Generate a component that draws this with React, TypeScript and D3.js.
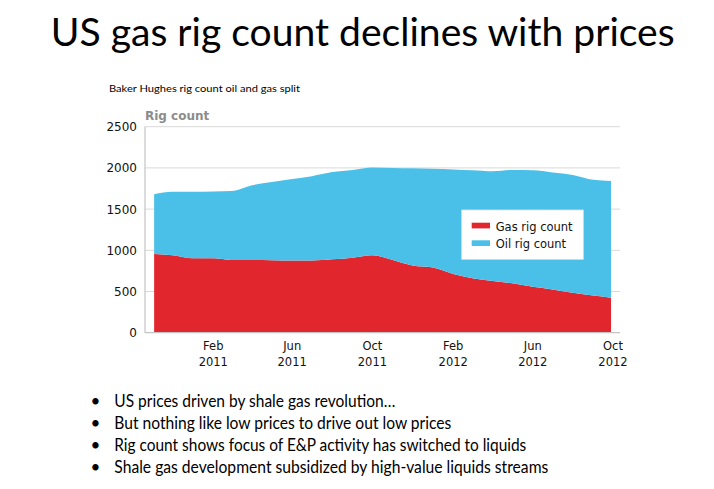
import React from "react";
import * as d3 from "d3";

const dates = [
  "2010-11-03", "2010-12-01", "2011-01-01", "2011-02-01", "2011-03-01", "2011-04-01",
  "2011-05-01", "2011-06-01", "2011-07-01", "2011-08-01", "2011-09-01", "2011-10-01",
  "2011-11-01", "2011-12-01", "2012-01-01", "2012-02-01", "2012-03-01", "2012-04-01",
  "2012-05-01", "2012-06-01", "2012-07-01", "2012-08-01", "2012-09-01", "2012-09-28",
];
const gasRigs = [955, 940, 903, 903, 882, 882, 880, 876, 876, 890, 910, 940, 882, 815, 790, 712, 662, 627, 600, 558, 525, 485, 450, 425];
const oilRigs = [725, 770, 809, 812, 838, 908, 950, 989, 1024, 1060, 1065, 1065, 1118, 1180, 1200, 1270, 1310, 1333, 1375, 1412, 1420, 1430, 1405, 1416];

const yTicks = [0, 500, 1000, 1500, 2000, 2500];
const xTicks = [
  { date: "2011-02-01", month: "Feb", year: "2011" },
  { date: "2011-06-01", month: "Jun", year: "2011" },
  { date: "2011-10-01", month: "Oct", year: "2011" },
  { date: "2012-02-01", month: "Feb", year: "2012" },
  { date: "2012-06-01", month: "Jun", year: "2012" },
  { date: "2012-10-01", month: "Oct", year: "2012" },
];
const seriesNames = ["Gas rig count", "Oil rig count"];
const colors = ["#E1262D", "#4AC0E9"];

const title = "US gas rig count declines with prices";
const subtitle = "Baker Hughes rig count oil and gas split";
const bullets = [
  { text: "US prices driven by shale gas revolution…", w: 281 },
  { text: "But nothing like low prices to drive out low prices", w: 337 },
  { text: "Rig count shows focus of E&P activity has switched to liquids", w: 412 },
  { text: "Shale gas development subsidized by high-value liquids streams", w: 434 },
];

const parse = d3.timeParse("%Y-%m-%d");

export default function App() {
  const W = 714, H = 489;
  const left = 145, right = 620, top = 126.7, bottom = 332.7;
  const x = d3.scaleTime()
    .domain([parse("2011-02-01")!, parse("2012-10-01")!])
    .range([213.3, 613]);
  const y = d3.scaleLinear().domain([0, 2500]).range([bottom, top]);

  const rows = dates.map((d, i) => ({ date: parse(d)!, gas: gasRigs[i], oil: oilRigs[i] }));
  const stack = d3.stack<any>().keys(["gas", "oil"]);
  const series = stack(rows);
  const area = d3.area<any>()
    .x((d) => x(d.data.date))
    .y0((d) => y(d[0]))
    .y1((d) => y(d[1]))
    .curve(d3.curveMonotoneX);

  return (
    <svg width={W} height={H} style={{ position: "absolute", left: 0, top: 0, background: "#fff" }}>
      <rect x={0} y={0} width={W} height={H} fill="#fff" />
      <text x={50.7} y={45.7} fontFamily="Lato, 'Open Sans', sans-serif" fontSize={38}
        textLength={624} lengthAdjust="spacingAndGlyphs" fill="#000">{title}</text>
      <text x={109} y={91.5} fontFamily="Lato, 'Open Sans', sans-serif" fontSize={10}
        textLength={191} lengthAdjust="spacingAndGlyphs" fill="#000">{subtitle}</text>
      <text x={145} y={119.5} fontFamily="'DejaVu Sans', sans-serif" fontWeight="bold" fontSize={12}
        fill="#8c8c8c">Rig count</text>

      {yTicks.filter((t) => t > 0).map((t) => (
        <line key={t} x1={left} x2={right} y1={y(t)} y2={y(t)} stroke="#d9d9d9" strokeWidth={1} />
      ))}

      {series.map((s, i) => (
        <path key={s.key} d={area(s as any) || ""} fill={colors[i]} />
      ))}

      <line x1={left} x2={left} y1={top} y2={bottom} stroke="#c4c4c4" strokeWidth={1.2} />
      <line x1={left} x2={right} y1={bottom} y2={bottom} stroke="#c4c4c4" strokeWidth={1.2} />

      {yTicks.map((t) => (
        <text key={t} x={137} y={y(t) + 4.5} textAnchor="end" fontFamily="'DejaVu Sans', sans-serif"
          fontSize={12} fill="#111">{t}</text>
      ))}

      {xTicks.map((t) => (
        <g key={t.date} fontFamily="'DejaVu Sans', sans-serif" fontSize={11.5} fill="#111" textAnchor="middle">
          <text x={x(parse(t.date)!)} y={349.5}>{t.month}</text>
          <text x={x(parse(t.date)!)} y={366}>{t.year}</text>
        </g>
      ))}

      <rect x={461.7} y={210} width={121.6} height={49.3} fill="#fff" stroke="#e0e0e0" strokeWidth={0.8} />
      {seriesNames.map((n, i) => (
        <g key={n}>
          <rect x={471.7} y={222.7 + i * 17.6} width={18.3} height={5.7} fill={colors[i]} />
          <text x={495.7} y={230.7 + i * 17.6} fontFamily="'DejaVu Sans', sans-serif" fontSize={11.5}
            fill="#111">{n}</text>
        </g>
      ))}

      {bullets.map((b, i) => (
        <g key={i} fontFamily="Lato, 'Open Sans', sans-serif" fontSize={17} fill="#000">
          <text x={90.5} y={406.7 + i * 22.2}>•</text>
          <text x={114.3} y={406.7 + i * 22.2} textLength={b.w} lengthAdjust="spacingAndGlyphs">{b.text}</text>
        </g>
      ))}
    </svg>
  );
}
